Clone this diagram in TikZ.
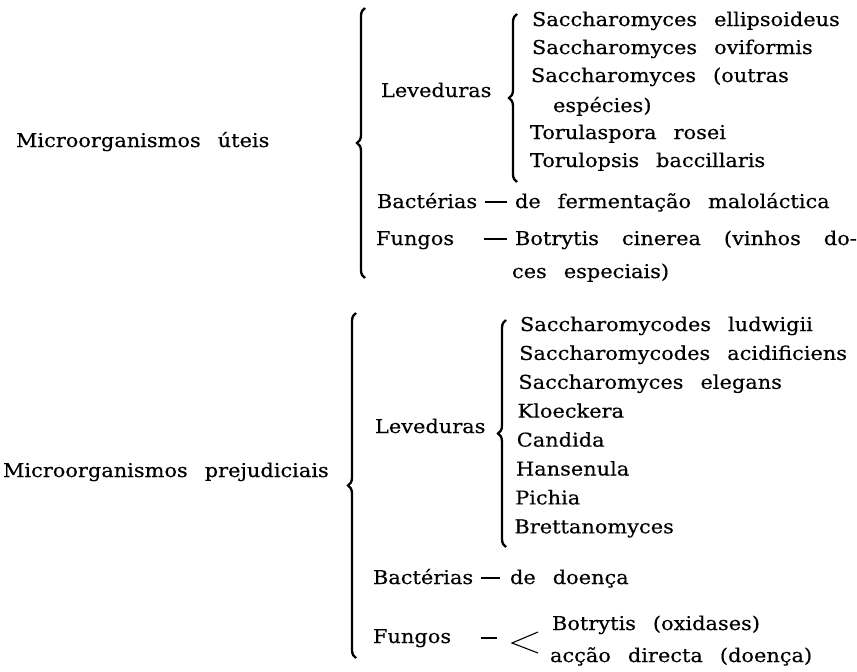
\documentclass[tikz,border=0pt]{standalone}
\usepackage{fontspec}
\setmainfont{DejaVu Serif}[FakeStretch=1.1,FakeBold=0.4]
\usetikzlibrary{decorations.pathreplacing}
\newcommand{\listfont}{\fontsize{19}{23}\selectfont\spaceskip=17pt plus 0pt\relax}
\newcommand{\widesp}{\spaceskip=23pt plus 0pt\relax}
\tikzset{every node/.style={font=\listfont,
  inner sep=0pt, outer sep=0pt, anchor=base west}}
\tikzset{bigbrace/.style={decorate, decoration={brace, amplitude=8pt}, line width=2.3pt},
  dashlink/.style={line width=1.1pt},
  forkline/.style={line width=1.1pt}}

\begin{document}
\begin{tikzpicture}[x=1pt,y=-1pt]
\useasboundingbox (0,0) rectangle (857,672);
% uteis
\node (mu) at (16,147) {Microorganismos úteis};
\draw[bigbrace] (365,278) -- (365,8);
\node (levA) at (381,97) {Leveduras};
\draw[bigbrace] (517,182) -- (517,14);
\node (yA1) at (532,26) {Saccharomyces ellipsoideus};
\node (yA2) at (532,54) {Saccharomyces oviformis};
\node (yA3) at (531,82) {Saccharomyces (outras};
\node (yA4) at (553,112) {espécies)};
\node (yA5) at (530,139) {Torulaspora rosei};
\node (yA6) at (530,167) {Torulopsis baccillaris};
\node (bacA) at (377,208) {Bactérias};
\node (malo) at (515,208) {de fermentação maloláctica};
\draw[dashlink,shorten <=8pt,shorten >=8pt] ([yshift=6pt]bacA.base east) -- ([yshift=6pt]malo.base west);
\node (funA) at (376,245) {Fungos};
\node (cin) at (515,245) {\widesp Botrytis cinerea (vinhos do-};
\node (cin2) at (512,278) {ces especiais)};
\draw[dashlink,shorten <=30pt,shorten >=8pt] ([yshift=6pt]funA.base east) -- ([yshift=6pt]cin.base west);
% prejudiciais
\node (mp) at (3,477) {Microorganismos prejudiciais};
\draw[bigbrace] (356,658) -- (356,313);
\node (levB) at (375,433) {Leveduras};
\draw[bigbrace] (506,547) -- (506,320);
\foreach \t [count=\i from 0] in {Saccharomycodes ludwigii, Saccharomycodes acidificiens,
  Saccharomyces elegans, Kloeckera, Candida, Hansenula, Pichia, Brettanomyces}
  \node (yB\i) at (520-0.8*\i,331+28.9*\i) {\t};
\node (bacB) at (373,584) {Bactérias};
\node (doe) at (510,584) {de doença};
\draw[dashlink,shorten <=8pt,shorten >=10pt] ([yshift=6pt]bacB.base east) -- ([yshift=6pt]doe.base west);
\node (funB) at (373,643) {Fungos};
\node (oxi) at (552,630) {Botrytis (oxidases)};
\node (acc) at (550,662) {acção directa (doença)};
\coordinate (fork) at (512,643);
\coordinate (forkA) at (538,632);
\coordinate (forkB) at (538,653);
\draw[dashlink,shorten <=30pt] ([yshift=5pt]funB.base east) -- ([yshift=5pt,xshift=-15pt]fork);
\draw[forkline] (forkA) -- (fork) -- (forkB);
\end{tikzpicture}
\end{document}
